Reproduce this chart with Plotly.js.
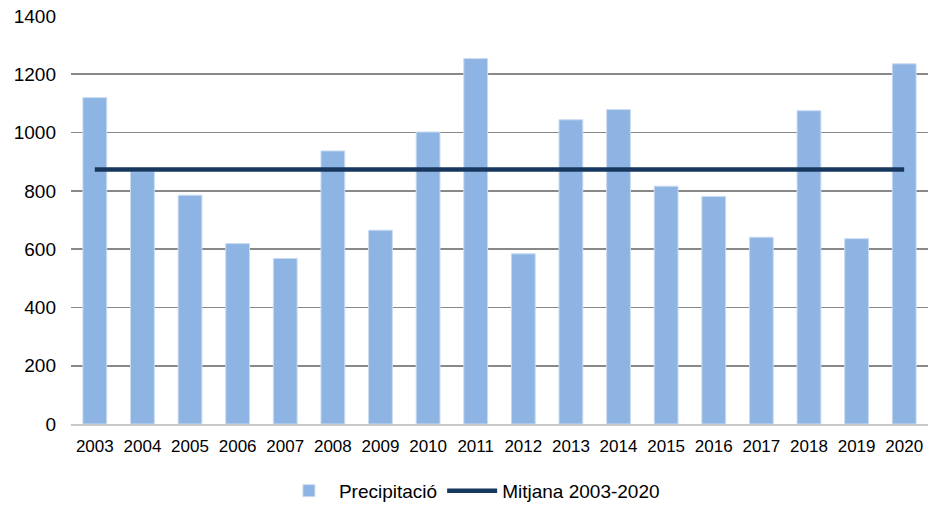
<!DOCTYPE html>
<html>
<head>
<meta charset="utf-8">
<script src="https://cdn.plot.ly/plotly-3.0.1.min.js"></script>
<style>
  html, body { margin: 0; padding: 0; background: #fff; }
  #chart { width: 929px; height: 506px; }
</style>
</head>
<body>
<div id="chart"></div>
<script>
// precipitació anual (mm) i mitjana del període
const years = ['2003', '2004', '2005', '2006', '2007', '2008', '2009', '2010', '2011',
  '2012', '2013', '2014', '2015', '2016', '2017', '2018', '2019', '2020']
const precip = [1120, 866, 785, 619, 568, 937, 665, 1002, 1254,
  584, 1044, 1079, 816, 781, 641, 1075, 636, 1236]
const mean = [873, 873, 873, 873, 873, 873, 873, 873, 873,
  873, 873, 873, 873, 873, 873, 873, 873, 873]
const yTicks = [0, 200, 400, 600, 800, 1000, 1200, 1400]

const font = 'Arial, "Liberation Sans", sans-serif'

const barTrace = {
  type: 'bar',
  name: 'Precipitació',
  x: years,
  y: precip,
  marker: {color: '#8EB4E3', line: {color: '#C9DCF2', width: 1}},
  hoverinfo: 'x+y'
}

const meanTrace = {
  type: 'scatter',
  mode: 'lines',
  name: 'Mitjana 2003-2020',
  x: years,
  y: mean,
  line: {color: '#17375E', width: 4.5}
}

const layout = {
  width: 929,
  height: 506,
  margin: {l: 71, r: 1, t: 16, b: 82},
  paper_bgcolor: '#fff',
  plot_bgcolor: '#fff',
  font: {family: font, color: '#000'},
  bargap: 0.5,
  showlegend: true,
  legend: {
    orientation: 'h',
    xref: 'container',
    yref: 'container',
    x: 0.508,
    xanchor: 'center',
    y: 0.03,
    yanchor: 'middle',
    itemwidth: 50,
    font: {family: font, size: 19, color: '#000'},
    traceorder: 'normal'
  },
  xaxis: {
    type: 'category',
    automargin: false,
    showgrid: false,
    showline: true,
    linecolor: '#C8C8C8',
    linewidth: 2,
    ticks: '',
    ticklabelstandoff: 6,
    tickfont: {family: font, size: 17, color: '#000'},
    fixedrange: true
  },
  yaxis: {
    range: [0, 1400],
    automargin: false,
    tickvals: yTicks,
    showgrid: true,
    gridcolor: '#888888',
    gridwidth: 1.7,
    zeroline: false,
    showline: false,
    ticks: '',
    ticklabelstandoff: 14,
    tickfont: {family: font, size: 19, color: '#000'},
    fixedrange: true
  }
}

Plotly.newPlot('chart', [barTrace, meanTrace], layout, {displayModeBar: false, staticPlot: true})
</script>
</body>
</html>
